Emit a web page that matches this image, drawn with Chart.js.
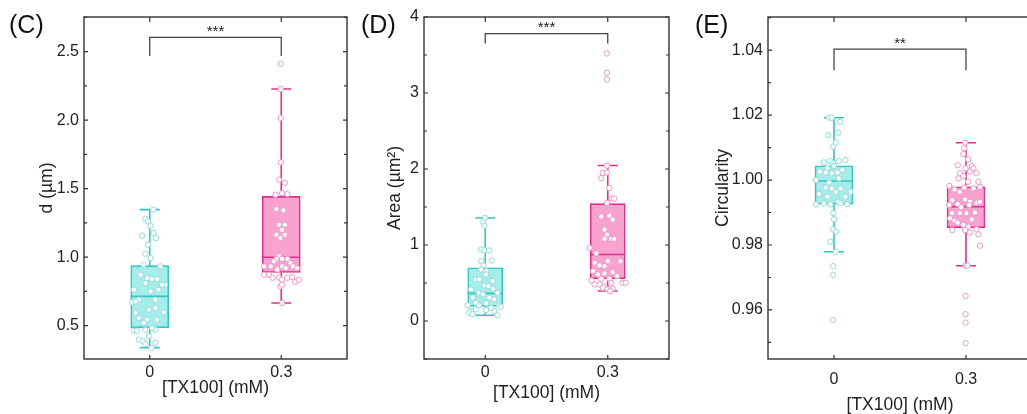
<!DOCTYPE html>
<html>
<head>
<meta charset="utf-8">
<script src="https://cdn.jsdelivr.net/npm/chart.js@4.4.0/dist/chart.umd.min.js"></script>
<style>
  html, body { margin: 0; padding: 0; width: 1027px; height: 414px; overflow: hidden; background: #fff; }
  canvas { position: absolute; top: 0; }
  .tag { position: absolute; top: 11.5px; font: 25px "Liberation Sans", Arial, sans-serif; line-height: 25px; color: #111; }
</style>
</head>
<body>
<canvas id="chartC" width="352" height="414" style="left:0px"></canvas>
<canvas id="chartD" width="322" height="414" style="left:352px"></canvas>
<canvas id="chartE" width="357" height="414" style="left:680px"></canvas>
<div class="tag" style="left:9px">(C)</div>
<div class="tag" style="left:361px">(D)</div>
<div class="tag" style="left:695px">(E)</div>
<script>
const FONT = '"Liberation Sans", Arial, sans-serif';
const groups = [0, 0.3];
const groupLabels = ['0', '0.3'];

// (C) d (um): box stats per group
const dLo = [0.34, 0.666];
const dQ1 = [0.485, 0.889];
const dMed = [0.714, 1.0];
const dQ3 = [0.938, 1.444];
const dHi = [1.347, 2.228];
const dTicks = [0.5, 1.0, 1.5, 2.0, 2.5];
const dTickLabels = ['0.5', '1.0', '1.5', '2.0', '2.5'];
// [x offset from group, value]
const dPts0 = [[0.008,1.347],[-0.010,1.281],[-0.004,1.261],[0.002,1.23],[0.009,1.177],[-0.017,1.157],[0.014,1.14],[-0.004,1.091],[-0.010,1.026],[0.002,0.994],[-0.014,0.945],[0.024,0.933],[-0.021,0.872],[-0.006,0.848],[0.005,0.841],[0.017,0.841],[-0.010,0.811],[0.035,0.799],[0.028,0.799],[-0.036,0.763],[0.002,0.75],[0.020,0.763],[-0.025,0.69],[0.013,0.69],[-0.040,0.67],[-0.032,0.677],[-0.002,0.617],[0.013,0.629],[-0.032,0.593],[0.032,0.597],[-0.025,0.556],[-0.006,0.544],[-0.014,0.52],[0.017,0.544],[-0.036,0.464],[-0.029,0.464],[-0.010,0.471],[0.013,0.471],[0.005,0.483],[-0.002,0.422],[-0.025,0.398],[-0.015,0.385],[-0.010,0.366],[0.013,0.374],[0.004,0.337]];
const dPts1 = [[-0.001,2.412],[-0.001,2.228],[-0.001,2.016],[-0.001,1.692],[-0.005,1.566],[0.008,1.542],[-0.013,1.456],[0.002,1.468],[0.014,1.46],[-0.011,1.352],[0.005,1.342],[-0.005,1.237],[0.008,1.237],[-0.011,1.164],[0.002,1.20],[0.008,1.164],[-0.002,1.14],[-0.005,1.006],[-0.011,0.987],[0.002,0.987],[0.014,0.987],[-0.017,0.969],[0.021,0.957],[-0.039,0.933],[-0.024,0.933],[0.002,0.933],[0.027,0.933],[-0.009,0.91],[0.010,0.92],[0.036,0.92],[-0.039,0.872],[-0.028,0.872],[-0.020,0.85],[-0.005,0.85],[0.014,0.85],[0.025,0.855],[0.002,0.836],[0.032,0.82],[0.040,0.836],[-0.002,0.787],[0.002,0.80],[0.002,0.666]];

// (D) Area (um2)
const aLo = [0.075, 0.394];
const aQ1 = [0.193, 0.556];
const aMed = [0.363, 0.875];
const aQ3 = [0.70, 1.544];
const aHi = [1.356, 2.046];
const aTicks = [0, 1, 2, 3, 4];
const aTickLabels = ['0', '1', '2', '3', '4'];
const aPts0 = [[-0.001,1.356],[-0.005,1.298],[-0.002,1.255],[-0.010,0.94],[-0.002,0.931],[0.010,0.927],[0.016,0.796],[-0.010,0.787],[-0.004,0.731],[-0.010,0.678],[0.003,0.656],[0.002,0.612],[0.018,0.525],[-0.023,0.547],[-0.015,0.547],[-0.002,0.468],[0.008,0.459],[0.019,0.425],[-0.035,0.416],[-0.016,0.372],[-0.006,0.35],[0.030,0.372],[-0.031,0.307],[0.010,0.307],[0.022,0.285],[-0.023,0.241],[0.002,0.232],[-0.015,0.206],[-0.043,0.206],[0.034,0.206],[0.038,0.189],[-0.035,0.131],[-0.023,0.153],[0.002,0.144],[0.022,0.131],[0.014,0.176],[-0.039,0.11],[-0.031,0.088],[0.030,0.075]];
const aPts1 = [[-0.002,3.52],[-0.002,3.265],[-0.002,3.178],[-0.002,2.046],[-0.012,1.946],[-0.002,1.954],[-0.016,1.88],[0.004,1.75],[0.010,1.61],[0.016,1.61],[-0.002,1.553],[-0.016,1.377],[0.004,1.386],[0.012,1.334],[-0.008,1.203],[-0.002,1.137],[0.008,1.08],[0.016,1.08],[-0.008,1.08],[-0.044,0.962],[-0.028,0.888],[-0.032,0.766],[-0.020,0.731],[-0.008,0.721],[0,0.787],[0.031,0.787],[-0.036,0.656],[-0.024,0.612],[-0.008,0.626],[0.012,0.643],[-0.040,0.534],[-0.016,0.556],[0.004,0.556],[0.023,0.59],[-0.032,0.481],[-0.020,0.481],[-0.008,0.459],[0.008,0.503],[0,0.416],[0.012,0.425],[-0.012,0.437],[0.036,0.503],[0.044,0.503],[0.006,0.394]];

// (E) Circularity
const cLo = [0.9779, 0.9736];
const cQ1 = [0.9926, 0.9853];
const cMed = [0.9997, 0.9918];
const cQ3 = [1.0044, 0.9979];
const cHi = [1.0192, 1.0115];
const cTicks = [0.96, 0.98, 1.00, 1.02, 1.04];
const cTickLabels = ['0.96', '0.98', '1.00', '1.02', '1.04'];
const cPts0 = [[-0.011,1.0192],[-0.005,1.0192],[0.014,1.0179],[-0.013,1.0138],[0.010,1.0146],[-0.002,1.0103],[0.004,1.0115],[-0.023,1.0054],[-0.008,1.0058],[-0.002,1.0051],[0.011,1.0058],[0.026,1.0062],[-0.032,1.0026],[-0.015,1.0036],[0,1.0043],[0.019,1.0031],[-0.019,1.0023],[-0.005,1.0021],[0.008,1.0023],[-0.041,1.0],[0.011,1.0005],[-0.011,0.9992],[-0.019,0.9977],[-0.005,0.9974],[0.004,0.9964],[0.015,0.9974],[-0.034,0.9957],[0.038,0.9964],[-0.015,0.9949],[0.026,0.9949],[0.010,0.9933],[-0.041,0.9925],[-0.023,0.9928],[-0.008,0.9925],[0.015,0.9928],[0.030,0.9926],[-0.002,0.9898],[0,0.9879],[-0.002,0.9848],[0.005,0.9841],[-0.008,0.981],[0.004,0.9779],[-0.002,0.9735],[-0.002,0.9708],[-0.002,0.9569]];
const cPts1 = [[-0.002,1.0115],[-0.004,1.0098],[-0.006,1.008],[0.005,1.0064],[-0.019,1.0046],[0.013,1.0043],[-0.001,1.0036],[-0.014,1.0021],[-0.006,1.0012],[0.009,1.0026],[0.017,1.0036],[0.024,1.0021],[-0.017,1.0005],[0.005,0.9995],[0.028,0.9995],[-0.038,0.9982],[-0.026,0.9971],[-0.014,0.9964],[-0.004,0.9977],[0.017,0.9974],[0.032,0.9979],[-0.031,0.9938],[-0.019,0.9926],[-0.002,0.994],[0.009,0.9933],[0.024,0.993],[0.032,0.9933],[-0.038,0.9923],[-0.011,0.9916],[0.007,0.9923],[-0.032,0.9898],[-0.014,0.9898],[0.001,0.9898],[0.020,0.99],[-0.036,0.9882],[-0.026,0.9875],[0.013,0.9879],[-0.019,0.9869],[-0.006,0.9862],[0.005,0.9856],[0.024,0.9848],[-0.031,0.9846],[-0.002,0.9846],[0.009,0.9838],[0.028,0.9833],[0.032,0.9798],[-0.001,0.9736],[0.003,0.9736],[-0.001,0.9643],[-0.001,0.9587],[-0.001,0.9561],[-0.001,0.9498]];

const LINE = ['#33c5bf', '#de2f8e'];
const FILL = ['#a6ecea', '#f8a2d0'];
const PT = ['#8edcdb', '#ee96c7'];
const PT_OUT = ['#a6d8dc', '#d9a2d3'];
const AXIS = '#333';

function extras(o) {
  return {
    id: 'boxExtras',
    beforeDatasetsDraw(chart) {
      const { ctx, scales: { x, y } } = chart;
      ctx.save();
      ctx.lineWidth = 1.6;
      groups.forEach((g, i) => {
        const px = x.getPixelForValue(g);
        ctx.strokeStyle = LINE[i];
        ctx.beginPath();
        ctx.moveTo(px, y.getPixelForValue(o.lo[i])); ctx.lineTo(px, y.getPixelForValue(o.q1[i]));
        ctx.moveTo(px, y.getPixelForValue(o.q3[i])); ctx.lineTo(px, y.getPixelForValue(o.hi[i]));
        [o.lo[i], o.hi[i]].forEach(v => {
          const py = y.getPixelForValue(v);
          ctx.moveTo(px - 10, py); ctx.lineTo(px + 10, py);
        });
        ctx.stroke();
      });
      ctx.restore();
    },
    afterDatasetDraw(chart, args) {
      if (args.index !== 0) return;
      const { ctx, scales: { x, y } } = chart;
      ctx.save();
      ctx.lineWidth = 1.6;
      groups.forEach((g, i) => {
        const px = x.getPixelForValue(g), py = y.getPixelForValue(o.med[i]);
        ctx.strokeStyle = LINE[i];
        ctx.beginPath();
        ctx.moveTo(px - o.boxW / 2, py); ctx.lineTo(px + o.boxW / 2, py);
        ctx.stroke();
      });
      ctx.restore();
    },
    afterDraw(chart) {
      const { ctx, chartArea: a, scales: { x, y } } = chart;
      ctx.save();
      ctx.strokeStyle = AXIS;
      ctx.lineWidth = 1.4;
      ctx.strokeRect(a.left, a.top, a.right - a.left, a.bottom - a.top);
      ctx.lineWidth = 1.2;
      ctx.beginPath();
      const step = o.ticks[1] - o.ticks[0];
      const minors = [];
      o.ticks.forEach(v => { minors.push(v - step / 2); });
      minors.push(o.ticks[o.ticks.length - 1] + step / 2);
      o.ticks.forEach(v => {
        const py = y.getPixelForValue(v);
        ctx.moveTo(a.left, py); ctx.lineTo(a.left + 4, py);
        ctx.moveTo(a.right, py); ctx.lineTo(a.right - 4, py);
      });
      minors.forEach(v => {
        if (v < o.yMin || v > o.yMax) return;
        const py = y.getPixelForValue(v);
        ctx.moveTo(a.left, py); ctx.lineTo(a.left + 3, py);
        ctx.moveTo(a.right, py); ctx.lineTo(a.right - 3, py);
      });
      groups.forEach(g => {
        const px = x.getPixelForValue(g);
        ctx.moveTo(px, a.bottom); ctx.lineTo(px, a.bottom - 4);
        ctx.moveTo(px, a.top); ctx.lineTo(px, a.top + 5);
      });
      ctx.stroke();
      // significance bracket
      const x0 = x.getPixelForValue(groups[0]), x1 = x.getPixelForValue(groups[1]);
      const by = y.getPixelForValue(o.bracket[0]), bd = y.getPixelForValue(o.bracket[1]);
      ctx.strokeStyle = '#444';
      ctx.lineWidth = 1.3;
      ctx.beginPath();
      ctx.moveTo(x0, bd); ctx.lineTo(x0, by); ctx.lineTo(x1, by); ctx.lineTo(x1, bd);
      ctx.stroke();
      ctx.fillStyle = '#222';
      ctx.font = '15px ' + FONT;
      ctx.textAlign = 'center';
      ctx.textBaseline = 'alphabetic';
      ctx.fillText(o.stars, (x0 + x1) / 2, by - 1.5);
      ctx.restore();
    }
  };
}

function makePanel(id, o) {
  const scatter = o.pts.map((p, i) => ({
    type: 'scatter',
    data: p.map(([dx, v]) => ({ x: groups[i] + dx, y: v })),
    pointRadius: 2.7,
    pointBorderWidth: 1,
    pointBackgroundColor: '#fff',
    pointBorderColor: c => {
      const v = c.raw ? c.raw.y : 0;
      return (v > o.hi[i] + 1e-6 || v < o.lo[i] - 1e-6) ? PT_OUT[i] : PT[i];
    },
    order: 1
  }));
  new Chart(document.getElementById(id), {
    type: 'bar',
    data: {
      datasets: [{
        type: 'bar',
        data: groups.map((g, i) => ({ x: g, y: [o.q1[i], o.q3[i]] })),
        backgroundColor: FILL,
        borderColor: LINE,
        borderWidth: 1.6,
        borderSkipped: false,
        barThickness: o.boxW,
        order: 2
      }, ...scatter]
    },
    options: {
      responsive: false,
      animation: false,
      layout: { padding: { left: 0, right: o.padRight, top: 17, bottom: 0 } },
      plugins: { legend: { display: false }, tooltip: { enabled: false } },
      scales: {
        x: {
          type: 'linear', min: -0.15, max: 0.45, offset: false,
          grid: { display: false, drawTicks: false }, border: { display: false },
          afterBuildTicks: s => { s.ticks = groups.map(v => ({ value: v })); },
          afterFit: s => { s.height = 55; },
          ticks: { padding: o.tickPad, color: '#222', font: { family: FONT, size: 16 }, callback: (v, i) => groupLabels[i] },
          title: { display: true, text: '[TX100] (mM)', color: '#222', font: { family: FONT, size: 17.5, lineHeight: 1 }, padding: { top: 0, bottom: o.xTitlePad } }
        },
        y: {
          type: 'linear', min: o.yMin, max: o.yMax,
          grid: { display: false, drawTicks: false }, border: { display: false },
          afterBuildTicks: s => { s.ticks = o.ticks.map(v => ({ value: v })); },
          afterFit: s => { s.width = o.yWidth; },
          ticks: { padding: 5, color: '#222', font: { family: FONT, size: 16 }, callback: (v, i) => o.tickLabels[i] },
          title: { display: true, text: o.title, color: '#222', font: { family: FONT, size: 17.5, lineHeight: 1 }, padding: { top: o.yTitlePad, bottom: 0 } }
        }
      }
    },
    plugins: [extras(o)]
  });
}

makePanel('chartC', {
  lo: dLo, q1: dQ1, med: dMed, q3: dQ3, hi: dHi, pts: [dPts0, dPts1],
  yMin: 0.257, yMax: 2.753, ticks: dTicks, tickLabels: dTickLabels,
  title: 'd (µm)', yWidth: 84, yTitlePad: 38.25, xTitlePad: 17.25, tickPad: 3.5, padRight: 3,
  boxW: 38, bracket: [2.605, 2.469], stars: '***'
});
makePanel('chartD', {
  lo: aLo, q1: aQ1, med: aMed, q3: aQ3, hi: aHi, pts: [aPts0, aPts1],
  yMin: -0.5, yMax: 4.0, ticks: aTicks, tickLabels: aTickLabels,
  title: 'Area (µm²)', yWidth: 72, yTitlePad: 34.25, xTitlePad: 12.25, tickPad: 3.5, padRight: 3,
  boxW: 35, bracket: [3.78, 3.65], stars: '***'
});
makePanel('chartE', {
  lo: cLo, q1: cQ1, med: cMed, q3: cQ3, hi: cHi, pts: [cPts0, cPts1],
  yMin: 0.9449, yMax: 1.0502, ticks: cTicks, tickLabels: cTickLabels,
  title: 'Circularity', yWidth: 88, yTitlePad: 34.25, xTitlePad: 0.25, tickPad: 10.5, padRight: 2.5,
  boxW: 38, bracket: [1.0403, 1.0338], stars: '**'
});
</script>
</body>
</html>
